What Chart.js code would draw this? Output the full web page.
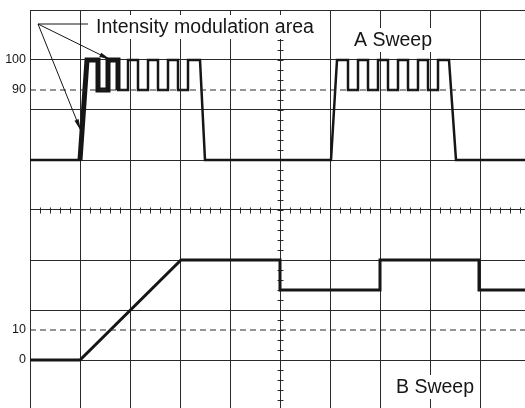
<!DOCTYPE html>
<html>
<head>
<meta charset="utf-8">
<script src="https://cdn.jsdelivr.net/npm/chart.js@4.4.1/dist/chart.umd.min.js"></script>
<style>
  html, body { margin: 0; padding: 0; background: #fff; }
  #scope { display: block; }
</style>
</head>
<body>
<canvas id="scope" width="525" height="408"></canvas>
<script>
// graticule in divisions: x 0..9.9, y -3.96..4 (centre line at 0)
const xDivs = [0, 1, 2, 3, 4, 5, 6, 7, 8, 9];
const yDivs = [-3, -2, -1, 0, 1, 2, 3, 4];
const levelTicks = [3, 2.4, -2.4, -3];
const levelLabels = ['100', '90', '10', '0'];
const dashedLevels = [2.4, -2.4];

// A sweep: gate pulses with intensity-modulated tops (100 / 90 levels)
const aSweepX = [0, 1.0, 1.14, 1.36, 1.36, 1.56, 1.56, 1.76, 1.76, 1.96, 1.96, 2.16, 2.16, 2.36, 2.36, 2.56, 2.56,
  2.76, 2.76, 2.96, 2.96, 3.16, 3.16, 3.4, 3.5, 6.02, 6.14, 6.36, 6.36, 6.56, 6.56, 6.76, 6.76, 6.96, 6.96, 7.16,
  7.16, 7.36, 7.36, 7.56, 7.56, 7.76, 7.76, 7.96, 7.96, 8.16, 8.16, 8.38, 8.52, 9.9];
const aSweepY = [1, 1, 3, 3, 2.4, 2.4, 3, 3, 2.4, 2.4, 3, 3, 2.4, 2.4, 3, 3, 2.4, 2.4, 3, 3, 2.4, 2.4, 3, 3, 1,
  1, 3, 3, 2.4, 2.4, 3, 3, 2.4, 2.4, 3, 3, 2.4, 2.4, 3, 3, 2.4, 2.4, 3, 3, 2.4, 2.4, 3, 3, 1, 1];
const intensifiedFrom = 1.0;
const intensifiedTo = 1.76;

// B sweep: ramp then square wave
const bSweepX = [0, 1, 3.02, 5, 5, 7, 7, 8.98, 8.98, 9.9];
const bSweepY = [-3, -3, -1, -1, -1.6, -1.6, -1, -1, -1.6, -1.6];

const ink = '#161616';
const gridInk = '#2a2a2a';
const labelFont = '19.5px "Liberation Sans", Arial, sans-serif';

const toPoints = (xs, ys) => xs.map((x, i) => ({ x, y: ys[i] }));
const aPoints = toPoints(aSweepX, aSweepY);
const intensified = aPoints.filter((p) => p.x >= intensifiedFrom && p.x <= intensifiedTo);

function trace(data, width) {
  return {
    data,
    showLine: true,
    borderColor: ink,
    borderWidth: width,
    borderJoinStyle: 'miter',
    pointRadius: 0,
    tension: 0,
    fill: false
  };
}

const levelLines = dashedLevels.map((v) => ({
  data: [{ x: 0, y: v }, { x: 9.9, y: v }],
  showLine: true,
  borderColor: gridInk,
  borderWidth: 1,
  borderDash: [6, 4],
  pointRadius: 0
}));

// minor graticule marks on the centre lines
const centreTicks = {
  id: 'centreTicks',
  beforeDatasetsDraw(chart) {
    const { ctx, scales: { x, y } } = chart;
    const cy = Math.round(y.getPixelForValue(0)) + 0.5;
    const cx = Math.round(x.getPixelForValue(5)) + 0.5;
    ctx.save();
    ctx.strokeStyle = gridInk;
    ctx.lineWidth = 1;
    ctx.beginPath();
    for (let i = 0; i <= 49; i++) {
      const px = Math.round(x.getPixelForValue(i * 0.2)) + 0.5;
      ctx.moveTo(px, cy - 3);
      ctx.lineTo(px, cy + 3);
    }
    for (let i = -19; i <= 20; i++) {
      const py = Math.round(y.getPixelForValue(i * 0.2)) + 0.5;
      ctx.moveTo(cx - 3, py);
      ctx.lineTo(cx + 3, py);
    }
    ctx.stroke();
    ctx.restore();
  }
};

function arrow(ctx, x0, y0, x1, y1) {
  const ang = Math.atan2(y1 - y0, x1 - x0);
  const len = 12;
  const half = 2.2;
  ctx.beginPath();
  ctx.moveTo(x0, y0);
  ctx.lineTo(x1, y1);
  ctx.stroke();
  ctx.beginPath();
  ctx.moveTo(x1, y1);
  ctx.lineTo(x1 - len * Math.cos(ang) + half * Math.sin(ang), y1 - len * Math.sin(ang) - half * Math.cos(ang));
  ctx.lineTo(x1 - len * Math.cos(ang) - half * Math.sin(ang), y1 - len * Math.sin(ang) + half * Math.cos(ang));
  ctx.closePath();
  ctx.fill();
}

function boxedText(ctx, text, x, y) {
  ctx.font = labelFont;
  const w = ctx.measureText(text).width;
  ctx.fillStyle = '#fff';
  ctx.fillRect(x - 3, y - 18, w + 6, 24);
  ctx.fillStyle = ink;
  ctx.fillText(text, x, y);
}

// captions and the pointer lines
const captions = {
  id: 'captions',
  afterDraw(chart) {
    const { ctx, scales: { x, y } } = chart;
    const px = (v) => x.getPixelForValue(v);
    const py = (v) => y.getPixelForValue(v);
    ctx.save();
    ctx.textBaseline = 'alphabetic';
    ctx.textAlign = 'left';
    boxedText(ctx, 'Intensity modulation area', px(1.32), py(3.54));
    boxedText(ctx, 'A Sweep', px(6.48), py(3.28));
    boxedText(ctx, 'B Sweep', px(7.32), py(-3.66));

    ctx.strokeStyle = ink;
    ctx.fillStyle = ink;
    ctx.lineWidth = 1;
    const ox = px(0.16);
    const oy = py(3.72);
    ctx.beginPath();
    ctx.moveTo(ox, oy);
    ctx.lineTo(px(1.16), oy);
    ctx.stroke();
    arrow(ctx, ox, oy, px(1.62), py(3.0));
    arrow(ctx, ox, oy, px(1.02), py(1.58));
    ctx.restore();
  }
};

new Chart(document.getElementById('scope'), {
  type: 'scatter',
  data: {
    datasets: [
      ...levelLines,
      trace(aPoints, 2.5),
      trace(intensified, 5),
      trace(toPoints(bSweepX, bSweepY), 3)
    ]
  },
  options: {
    responsive: false,
    animation: false,
    devicePixelRatio: 1,
    layout: { padding: { top: 10, left: 0, right: 0, bottom: 0 } },
    plugins: {
      legend: { display: false },
      tooltip: { enabled: false }
    },
    scales: {
      x: {
        type: 'linear',
        min: 0,
        max: 9.9,
        afterBuildTicks: (scale) => { scale.ticks = xDivs.map((value) => ({ value })); },
        afterFit: (scale) => {
          scale.height = 0;
          scale.paddingLeft = 0;
          scale.paddingRight = 0;
        },
        ticks: { display: false },
        border: { display: false },
        grid: { color: gridInk, lineWidth: 1, drawTicks: false }
      },
      y: {
        type: 'linear',
        min: -3.96,
        max: 4,
        afterBuildTicks: (scale) => {
          scale.ticks = yDivs.concat(dashedLevels).map((value) => ({ value }));
        },
        afterFit: (scale) => {
          scale.width = 30;
          scale.paddingTop = 0;
          scale.paddingBottom = 0;
        },
        ticks: {
          padding: 4,
          color: ink,
          font: { family: '"Liberation Sans", Arial, sans-serif', size: 12.5 },
          callback: (value) => {
            const i = levelTicks.indexOf(value);
            return i >= 0 ? levelLabels[i] : '';
          }
        },
        border: { display: true, color: gridInk, width: 1 },
        grid: {
          drawTicks: false,
          lineWidth: 1,
          color: (c) => (dashedLevels.includes(c.tick && c.tick.value) ? 'rgba(0,0,0,0)' : gridInk)
        }
      }
    }
  },
  plugins: [centreTicks, captions]
});
</script>
</body>
</html>
